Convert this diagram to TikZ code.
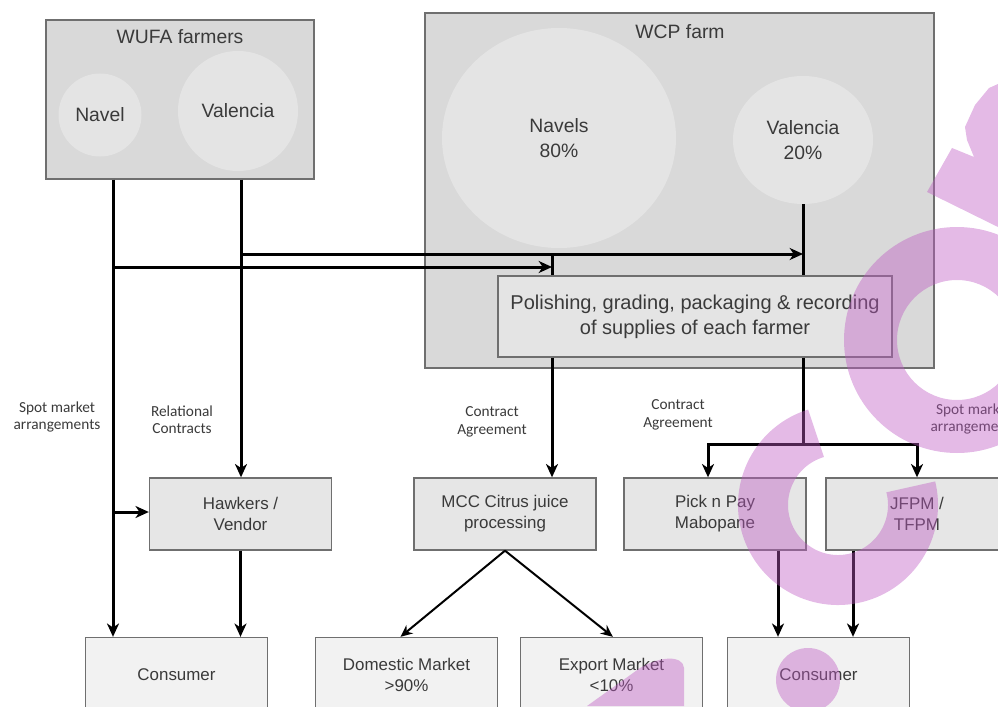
\documentclass[tikz,border=0pt]{standalone}
\usepackage{fontspec}
\setmainfont{Liberation Sans}
\newfontfamily\notefont{Carlito}
\usetikzlibrary{arrows.meta,shapes.geometric}
\definecolor{frame}{HTML}{6F6F6F}
\definecolor{farmfill}{HTML}{D9D9D9}
\definecolor{cropfill}{HTML}{E4E4E4}
\definecolor{stagefill}{HTML}{E6E6E6}
\definecolor{endfill}{HTML}{F2F2F2}
\definecolor{ink}{HTML}{3A3A3A}
\definecolor{wmk}{RGB}{190,90,195}
\begin{document}
\begin{tikzpicture}[x=0.75pt,y=-0.75pt,
  farm/.style={draw=frame,line width=1pt,fill=farmfill,rectangle,inner sep=0pt},
  crop/.style={ellipse,fill=cropfill,draw=none,inner sep=0pt},
  bigtext/.style={text=ink,font=\fontsize{14.5}{18.75}\selectfont,align=center},
  stage/.style={draw=frame,line width=1pt,fill=stagefill,minimum width=136.5pt,
    minimum height=54pt,text=ink,font=\fontsize{12.7}{15.75}\selectfont,align=center,inner sep=0pt},
  outlet/.style={stage,fill=endfill,minimum height=55.5pt},
  note/.style={text=ink,font=\notefont\fontsize{11.5}{13}\selectfont,align=center,inner sep=0pt},
  flow/.style={line width=2.25pt,-{Stealth[length=10pt,width=9pt,inset=3pt]}},
  link/.style={line width=2.25pt},
  slim/.style={line width=1.5pt,-{Stealth[length=9pt,width=8pt,inset=3pt]}},
]
\useasboundingbox (0,0) rectangle (998,706);
\clip (0,0) rectangle (998,706);

% growers
\node[farm,minimum width=201pt,minimum height=119.25pt] (wufa) at (180,99.5) {};
\node[bigtext] (wufaT) at (180,37) {WUFA farmers};
\node[crop,minimum size=62.25pt,bigtext] (navW) at (100,115) {Navel};
\node[crop,minimum size=90pt,bigtext] (valW) at (238,111) {Valencia};

\node[farm,minimum width=381.75pt,minimum height=266.25pt] (wcp) at (679.5,190.5) {};
\node[bigtext] (wcpT) at (680,32) {WCP farm};
\node[crop,minimum width=175.5pt,minimum height=165pt,bigtext] (navC) at (559,138) {Navels\\80\%};
\node[crop,minimum width=105pt,minimum height=96pt,bigtext] (valC) at (803,140) {Valencia\\20\%};
\node[farm,fill=cropfill,minimum width=295.5pt,minimum height=60.75pt,text=ink,
  font=\fontsize{15}{18.75}\selectfont,align=center] (polish) at (695,316.5)
  {Polishing, grading, packaging \& recording\\of supplies of each farmer};

% buyers
\node[stage] (hawk) at (240.5,514) {Hawkers /\\Vendor};
\node[stage] (mcc) at (505,514) {MCC Citrus juice\\processing};
\node[stage] (pnp) at (715,514) {Pick n Pay\\Mabopane};
\node[stage] (jfpm) at (917,514) {JFPM /\\TFPM};

% final markets
\node[outlet] (consL) at (176.5,674.5) {Consumer};
\node[outlet] (dom) at (406.5,674.5) {Domestic Market\\>90\%};
\node[outlet] (exp) at (611.5,674.5) {Export Market\\<10\%};
\node[outlet] (consR) at (818.5,674.5) {Consumer};

% arrangement labels
\node[note] (n1) at (57,417) {Spot market\\arrangements};
\node[note] (n2) at (182,420) {Relational\\Contracts};
\node[note] (n3) at (492,422) {Contract\\Agreement};
\node[note] (n4) at (678,415) {Contract\\Agreement};
\node[note] (n5) at (974,419) {Spot market\\arrangements};

% junctions
\coordinate (jLow) at (113,267);
\coordinate (jUp) at (241,254);
\coordinate (jSide) at (113,512);
\coordinate (jNav) at (552,254);
\coordinate (jSplit) at (803,444);

% flows
\draw[flow] ([xshift=-50.25pt]wufa.south) coordinate (w1) -- (w1 |- consL.north);
\draw[flow] ([xshift=45.75pt]wufa.south) coordinate (w2) -- (w2 |- hawk.north);
\draw[link] (valC.south) -- (valC.south |- polish.north);
\draw[flow] (jUp) -- (jUp -| valC.south);
\draw[link] (jNav) -- (jNav |- polish.north);
\draw[flow] (jLow) -- (jLow -| jNav);
\draw[flow] (jSide) -- (jSide -| hawk.west);
\draw[flow] (polish.south -| jNav) -- (jNav |- mcc.north);
\draw[link] (polish.south -| jSplit) -- (jSplit);
\draw[flow] (jSplit) -| ([xshift=-5.25pt]pnp.north);
\draw[flow] (jSplit) -| (jfpm.north);
\draw[slim] (mcc.south) -- ([xshift=-4.5pt]dom.north);
\draw[slim] (mcc.south) -- ([xshift=1pt]exp.north);
\draw[flow] (hawk.south) -- (hawk.south |- consL.north);
\draw[flow] ([xshift=47.25pt]pnp.south) coordinate (p1) -- (p1 |- consR.north);
\draw[flow] ([xshift=-48pt]jfpm.south) coordinate (p2) -- (p2 |- consR.north);

% translucent brush strokes laid over the chart
\begin{scope}[wmk,opacity=0.42]
\fill (998,84) -- (989,88) -- (975,105) -- (965,127) -- (967,140) -- (974,157)
  -- (952,148) -- (927,192) -- (998,227) -- cycle;
\fill[even odd rule] (957,340) circle[radius=113] (957,340) circle[radius=60];
\draw[line width=37.5pt] (838,505) ++(253:75) arc[start angle=253,end angle=-14,radius=75];
\fill (808,680) circle[radius=32];
\fill (587,706) -- (640,668) .. controls (660,656) and (683,655) .. (684,668) -- (684,706) -- cycle;
\end{scope}
\end{tikzpicture}
\end{document}
